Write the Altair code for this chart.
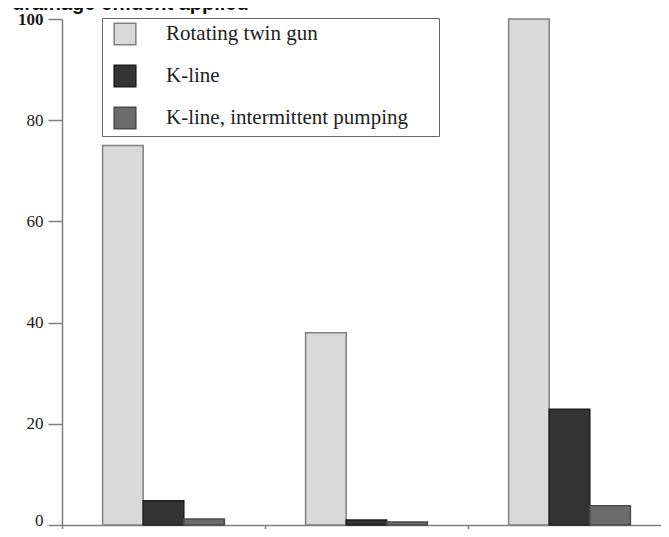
import altair as alt
import pandas as pd

# ---- data ----
categories = ["Site 1", "Site 2", "Site 3"]
series_names = ["Rotating twin gun", "K-line", "K-line, intermittent pumping"]
twin_gun = [75.0, 38.0, 100.0]
k_line = [4.8, 1.0, 22.9]
k_line_intermittent = [1.2, 0.6, 3.8]
y_ticks = [0, 20, 40, 60, 80, 100]
title_text = "drainage effluent applied"

fill_colors = ["#d9d9d9", "#333333", "#6b6b6b"]
stroke_colors = ["#808080", "#1e1e1e", "#4a4a4a"]

rows = []
for s, vals in zip(series_names, [twin_gun, k_line, k_line_intermittent]):
    for c, v in zip(categories, vals):
        rows.append({"category": c, "series": s, "value": v})
df = pd.DataFrame(rows)

W, H = 599, 506
# non-breaking spaces closed by a zero-width space (so they are not trimmed):
# widens the legend box on the right like the reference
PAD_TXT = "\u00a0" * 5 + "\u200b"

legend = alt.Legend(
    title=None,
    orient="none",
    legendX=40,
    legendY=-1,
    fillColor="white",
    strokeColor="#666666",
    padding=4,
    rowPadding=14,
    symbolType="square",
    symbolSize=470,
    symbolStrokeWidth=1.5,
    symbolOffset=7,
    labelFont="Liberation Serif",
    labelFontSize=21,
    labelColor="#222222",
    labelOffset=29,
    labelLimit=400,
    labelExpr="datum.label + '" + PAD_TXT + "'",
)

bars = alt.Chart(df).mark_bar(strokeWidth=1.5).encode(
    x=alt.X(
        "category:N",
        sort=categories,
        scale=alt.Scale(paddingInner=0, paddingOuter=0, range=[0, 609]),
        axis=alt.Axis(
            title=None,
            labels=False,
            bandPosition=0,
            tickSize=12,
            tickColor="#808080",
            tickWidth=1.5,
            domainColor="#808080",
            domainWidth=1.5,
            grid=False,
        ),
    ),
    xOffset=alt.XOffset(
        "series:N",
        sort=series_names,
        scale=alt.Scale(paddingInner=0, paddingOuter=1),
    ),
    y=alt.Y(
        "value:Q",
        scale=alt.Scale(domain=[0, 100], nice=False),
        axis=alt.Axis(
            title=None,
            values=y_ticks,
            grid=False,
            tickSize=14,
            tickColor="#808080",
            tickWidth=1.5,
            domainColor="#808080",
            domainWidth=1.5,
            labelPadding=5,
            labelFont="Liberation Serif",
            labelFontSize=17,
            labelColor="#1a1a1a",
            labelOffset=alt.condition(
                "datum.value == 0", alt.value(-5), alt.value(0)
            ),
            labelFontWeight=alt.condition(
                "datum.value == 100", alt.value("bold"), alt.value("normal")
            ),
        ),
    ),
    fill=alt.Fill(
        "series:N",
        sort=series_names,
        scale=alt.Scale(domain=series_names, range=fill_colors),
        legend=legend,
    ),
    stroke=alt.Stroke(
        "series:N",
        sort=series_names,
        scale=alt.Scale(domain=series_names, range=stroke_colors),
        legend=legend,
    ),
)

title = alt.Chart(pd.DataFrame({"t": [title_text]})).mark_text(
    align="left",
    baseline="alphabetic",
    font="Liberation Sans",
    fontSize=20,
    fontWeight="bold",
    color="#111111",
).encode(
    text="t:N",
    x=alt.value(-50),
    y=alt.value(-9),
)

chart = alt.layer(bars, title).properties(
    width=W,
    height=H,
    autosize=alt.AutoSizeParams(type="none"),
    padding={"left": 54, "top": 11, "right": 0, "bottom": 4},
    background="white",
).configure_view(stroke=None)

chart.save("out.html", embed_options={"renderer": "svg", "actions": False})
